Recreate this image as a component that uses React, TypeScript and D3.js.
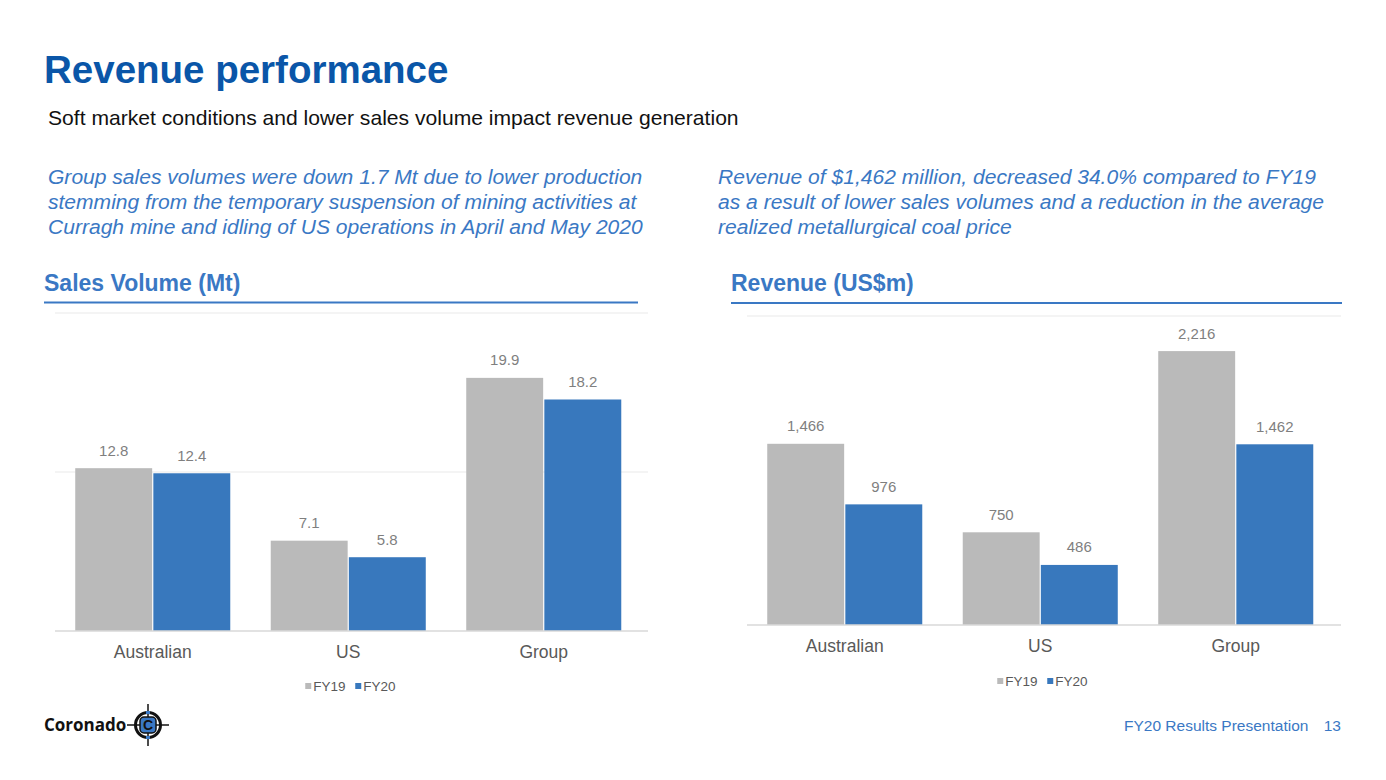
import React from "react";
import * as d3 from "d3";

const categories = ["Australian", "US", "Group"];
const seriesNames = ["FY19", "FY20"];
const salesFY19 = [12.8, 7.1, 19.9];
const salesFY20 = [12.4, 5.8, 18.2];
const revenueFY19 = [1466, 750, 2216];
const revenueFY20 = [976, 486, 1462];
const salesTicks = [12.5, 25];
const revenueTicks = [2500];

const TITLE_BLUE = "#0a56a8";
const MID_BLUE = "#3a78c4";
const GRAY_BAR = "#bababa";
const BLUE_BAR = "#3878bd";
const LABEL_GRAY = "#7f7f7f";
const AXIS_GRAY = "#595959";
const FONT = "'Liberation Sans', Arial, sans-serif";

type ChartProps = {
  left: number;
  right: number;
  gridLeft: number;
  gridRight: number;
  base: number;
  top: number;
  max: number;
  ticks: number[];
  fy19: number[];
  fy20: number[];
  fmt: (v: number) => string;
  catY: number;
  legendY: number;
};

function BarChart(p: ChartProps) {
  const x0 = d3
    .scaleBand<string>()
    .domain(categories)
    .range([p.left, p.right])
    .paddingInner(0.207)
    .paddingOuter(0.1035);
  const x1 = d3
    .scaleBand<string>()
    .domain(seriesNames)
    .range([0, x0.bandwidth()])
    .paddingInner(0.015);
  const y = d3.scaleLinear().domain([0, p.max]).range([p.base, p.top]);
  const colors = d3.scaleOrdinal<string, string>().domain(seriesNames).range([GRAY_BAR, BLUE_BAR]);
  const vals: Record<string, number[]> = { FY19: p.fy19, FY20: p.fy20 };
  const cx = (p.left + p.right) / 2;

  return (
    <g>
      {p.ticks.map((t) => (
        <line key={t} x1={p.gridLeft} x2={p.gridRight} y1={y(t)} y2={y(t)} stroke="#e9e9e9" strokeWidth={1.2} />
      ))}
      {categories.map((c, i) =>
        seriesNames.map((s) => {
          const v = vals[s][i];
          const bx = (x0(c) as number) + (x1(s) as number);
          return (
            <g key={c + s}>
              <rect x={bx} y={y(v)} width={x1.bandwidth()} height={p.base - y(v)} fill={colors(s)} />
              <text
                x={bx + x1.bandwidth() / 2}
                y={y(v) - 12.5}
                textAnchor="middle"
                fontSize={15}
                fill={LABEL_GRAY}
                fontFamily={FONT}
              >
                {p.fmt(v)}
              </text>
            </g>
          );
        })
      )}
      <line x1={p.gridLeft} x2={p.gridRight} y1={p.base} y2={p.base} stroke="#d9d9d9" strokeWidth={1.3} />
      {categories.map((c) => (
        <text
          key={c}
          x={(x0(c) as number) + x0.bandwidth() / 2}
          y={p.catY}
          textAnchor="middle"
          fontSize={17.5}
          fill={AXIS_GRAY}
          fontFamily={FONT}
        >
          {c}
        </text>
      ))}
      {seriesNames.map((s, i) => (
        <g key={s} transform={`translate(${cx - 43 + i * 50},${p.legendY})`}>
          <rect x={0} y={-3} width={6} height={6} fill={colors(s)} />
          <text x={8} y={5} fontSize={13.5} fill={AXIS_GRAY} fontFamily={FONT}>
            {s}
          </text>
        </g>
      ))}
    </g>
  );
}

function Logo() {
  const cx = 148;
  const cy = 725;
  return (
    <g>
      <text x={44} y={731} fontSize={17} fontWeight={700} fontFamily="'Open Sans', Arial, sans-serif" fill="#111">
        Coronado
      </text>
      <line x1={cx} x2={cx} y1={cy - 21} y2={cy + 21} stroke="#111" strokeWidth={1.5} />
      <line x1={cx - 21} x2={cx + 21} y1={cy} y2={cy} stroke="#111" strokeWidth={1.5} />
      <circle cx={cx} cy={cy} r={12.5} fill="none" stroke="#111" strokeWidth={3} />
      <rect x={cx - 2} y={cy - 14} width={4} height={3} fill="#3a78c4" />
      <rect x={cx - 2} y={cy + 11} width={4} height={3} fill="#3a78c4" />
      <rect x={cx - 8} y={cy - 8} width={16} height={16} rx={4} fill="#3a78c4" stroke="#111" strokeWidth={1.5} />
      <text x={cx} y={cy + 5} textAnchor="middle" fontSize={14} fontWeight={700} fontFamily={FONT} fill="#111">
        C
      </text>
    </g>
  );
}

export default function App() {
  const leftPara = [
    "Group sales volumes were down 1.7 Mt due to lower production",
    "stemming from the temporary suspension of mining activities at",
    "Curragh mine and idling of US operations in April and May 2020",
  ];
  const rightPara = [
    "Revenue of $1,462 million, decreased 34.0% compared to FY19",
    "as a result of lower sales volumes and a reduction in the average",
    "realized metallurgical coal price",
  ];
  return (
    <svg
      width={1386}
      height={780}
      viewBox="0 0 1386 780"
      style={{ position: "absolute", left: 0, top: 0, background: "#fff" }}
    >
      <rect width={1386} height={780} fill="#fff" />
      <text x={44} y={83} fontSize={38.5} fontWeight={700} fill={TITLE_BLUE} fontFamily={FONT}>
        Revenue performance
      </text>
      <text x={48} y={125} fontSize={21.1} fill="#111" fontFamily={FONT}>
        Soft market conditions and lower sales volume impact revenue generation
      </text>
      {leftPara.map((l, i) => (
        <text key={i} x={48} y={184 + i * 25} fontSize={21.05} fontStyle="italic" fill={MID_BLUE} fontFamily={FONT}>
          {l}
        </text>
      ))}
      {rightPara.map((l, i) => (
        <text key={i} x={718} y={184 + i * 25} fontSize={21.05} fontStyle="italic" fill={MID_BLUE} fontFamily={FONT}>
          {l}
        </text>
      ))}
      <text x={44} y={291} fontSize={23} fontWeight={700} fill={MID_BLUE} fontFamily={FONT}>
        Sales Volume (Mt)
      </text>
      <line x1={44} x2={638} y1={302.5} y2={302.5} stroke={MID_BLUE} strokeWidth={2} />
      <text x={731} y={291} fontSize={23} fontWeight={700} fill={MID_BLUE} fontFamily={FONT}>
        Revenue (US$m)
      </text>
      <line x1={731} x2={1342} y1={303} y2={303} stroke={MID_BLUE} strokeWidth={2} />

      <BarChart
        left={55}
        right={641.5}
        gridLeft={55}
        gridRight={648}
        base={631}
        top={313}
        max={25}
        ticks={salesTicks}
        fy19={salesFY19}
        fy20={salesFY20}
        fmt={d3.format(".1f")}
        catY={658}
        legendY={686}
      />
      <BarChart
        left={747}
        right={1333.5}
        gridLeft={747}
        gridRight={1341}
        base={625}
        top={316}
        max={2500}
        ticks={revenueTicks}
        fy19={revenueFY19}
        fy20={revenueFY20}
        fmt={d3.format(",")}
        catY={652}
        legendY={681}
      />

      <Logo />
      <text x={1124} y={731} fontSize={15.5} fill={MID_BLUE} fontFamily={FONT}>
        FY20 Results Presentation
      </text>
      <text x={1341} y={731} fontSize={15.5} fill={MID_BLUE} fontFamily={FONT} textAnchor="end">
        13
      </text>
    </svg>
  );
}
